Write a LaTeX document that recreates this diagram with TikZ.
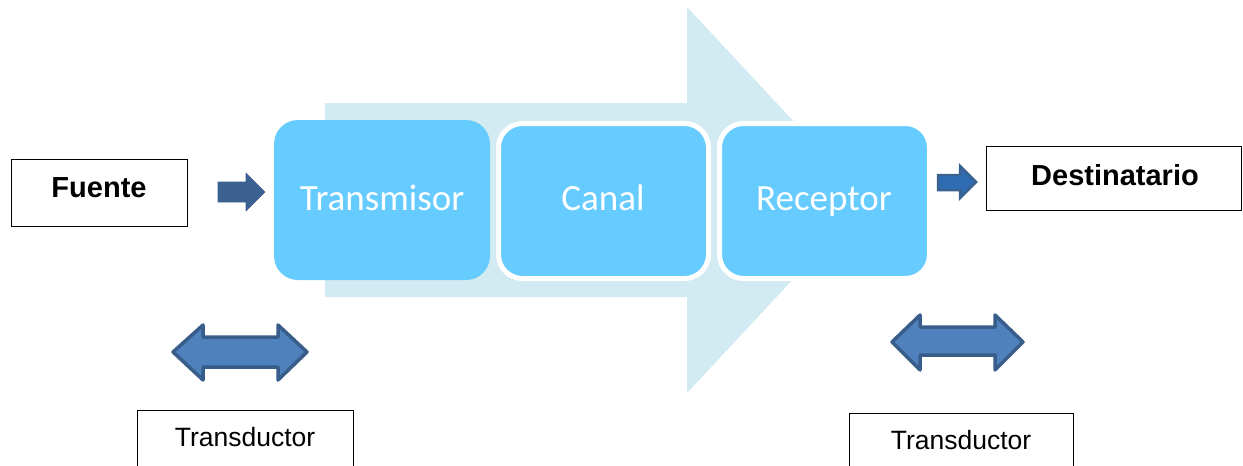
\documentclass[tikz,border=0pt]{standalone}
\usepackage{fontspec}
\setmainfont{Liberation Sans}
\newfontfamily\boxfont{Carlito}
\definecolor{flowbg}{HTML}{D2EAF1}
\definecolor{stagefill}{HTML}{66CCFF}
\definecolor{arrowdark}{HTML}{3B6191}
\definecolor{arrowfill}{HTML}{4F81BD}
\definecolor{arrowedge}{HTML}{385D8A}
\definecolor{smallfill}{HTML}{2E6DB4}
\begin{document}
\begin{tikzpicture}[x=1pt,y=-1pt,
  stage/.style={fill=stagefill,rounded corners=24pt,inner sep=0pt},
  stagetext/.style={text=white,anchor=base,font=\boxfont\fontsize{37}{40}\selectfont},
  label/.style={draw=black,line width=1pt,fill=white,inner sep=0pt},
  bigword/.style={font=\bfseries\fontsize{29}{32}\selectfont},
  smallword/.style={font=\fontsize{26.5}{30}\selectfont},
  blockarrow/.style={fill=arrowdark,draw=arrowdark,line width=0.6pt,line join=round},
  twoway/.style={fill=arrowfill,draw=arrowedge,line width=3.5pt,line join=round}]
\useasboundingbox (0,0) rectangle (1243,466);

% wide background arrow behind the three stages
\fill[flowbg] (325,103) -- (687,103) -- (687,7) -- (867,200)
  -- (687,393) -- (687,297) -- (325,297) -- cycle;

% the three stages
\filldraw[stage,draw=none] (274,120) rectangle (490,280);
\node[stagetext] (tx) at (382,210) {Transmisor};
\filldraw[stage,draw=white,line width=5pt] (498.5,123.5) rectangle (708.5,278.5);
\node[stagetext] (ch) at (603,210) {Canal};
\filldraw[stage,draw=white,line width=5pt] (719.5,123.5) rectangle (929.5,278.5);
\node[stagetext] (rx) at (824,210) {Receptor};

% source and destination
\draw[label] (11,159) rectangle (187,226);
\node[bigword] (src) at (99,188) {Fuente};
\draw[label] (986,146) rectangle (1241,210);
\node[bigword] (dst) at (1115,175) {Destinatario};

% small block arrows into and out of the chain
\path[blockarrow] (218,182) -- (246,182) -- (246,173) -- (265,192)
  -- (246,211) -- (246,202) -- (218,202) -- cycle;
\path[fill=smallfill,draw=arrowdark,line width=2.5pt,line join=miter]
  (938,175) -- (960,175) -- (960,166) -- (976,182)
  -- (960,198) -- (960,190) -- (938,190) -- cycle;

% transducers
\path[twoway] (173,352) -- (203,325) -- (203,337) -- (278,337) -- (278,325)
  -- (307,352) -- (278,380) -- (278,367) -- (203,367) -- (203,380) -- cycle;
\draw[label] (137,410) rectangle (353,470);
\node[smallword] (tdl) at (245,437) {Transductor};

\path[twoway] (892,342) -- (920,315) -- (920,327) -- (995,327) -- (995,315)
  -- (1023,342) -- (995,370) -- (995,355) -- (920,355) -- (920,370) -- cycle;
\draw[label] (849,413) rectangle (1073,470);
\node[smallword] (tdr) at (961,440) {Transductor};
\end{tikzpicture}
\end{document}
